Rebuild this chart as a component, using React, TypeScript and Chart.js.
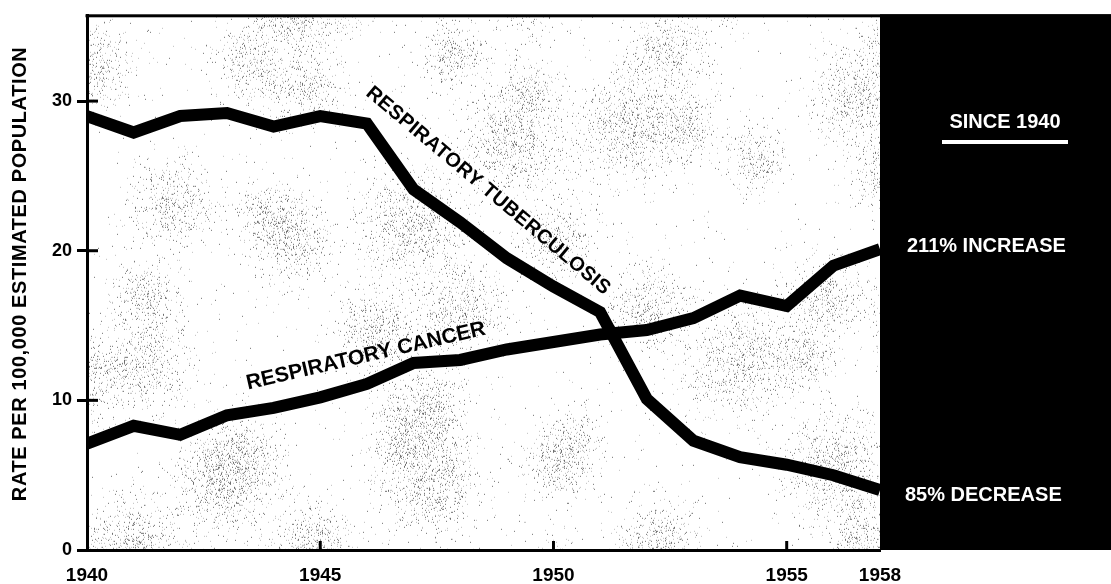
import React, { useEffect, useRef } from 'react';
import { Chart, registerables } from 'chart.js';

Chart.register(...registerables);

// ---- data ----
const years = [1940, 1941, 1942, 1943, 1944, 1945, 1946, 1947, 1948, 1949, 1950, 1951, 1952, 1953, 1954, 1955, 1956, 1957];
const tuberculosis = [29.0, 27.9, 29.0, 29.2, 28.3, 29.0, 28.5, 24.1, 21.9, 19.5, 17.6, 15.9, 10.1, 7.3, 6.2, 5.7, 5.0, 4.0];
const cancer = [7.1, 8.3, 7.7, 9.0, 9.5, 10.2, 11.1, 12.5, 12.7, 13.4, 13.9, 14.4, 14.7, 15.5, 17.0, 16.3, 19.0, 20.1];
const xTickYears = [1940, 1945, 1950, 1955, 1957];
const xTickLabels = ['1940', '1945', '1950', '1955', '1958'];
const yTicks = [0, 10, 20, 30];
const yTitle = 'RATE PER 100,000 ESTIMATED POPULATION';
const tbLabel = 'RESPIRATORY TUBERCULOSIS';
const cancerLabel = 'RESPIRATORY CANCER';
const panelHeading = 'SINCE 1940';
const cancerChange = '211% INCREASE';
const tbChange = '85% DECREASE';

const FONT = "'Liberation Sans', Arial, sans-serif";

function drawRotated(ctx: CanvasRenderingContext2D, text: string, cx: number, cy: number, deg: number, spacing: number) {
  ctx.save();
  ctx.translate(cx, cy);
  ctx.rotate((deg * Math.PI) / 180);
  (ctx as any).letterSpacing = spacing + 'px';
  ctx.fillText(text, 0, 0);
  ctx.restore();
}

// deterministic hash for the paper speckle texture (decoration only)
function hash(a: number, b: number): number {
  let h = (a * 374761393 + b * 668265263) | 0;
  h = Math.imul(h ^ (h >>> 13), 1274126177);
  h = h ^ (h >>> 16);
  return (h >>> 0) / 4294967296;
}

function makeTexture(w: number, h: number): HTMLCanvasElement {
  const c = document.createElement('canvas');
  c.width = w;
  c.height = h;
  const g = c.getContext('2d') as CanvasRenderingContext2D;
  const img = g.createImageData(w, h);
  const cell = 110;
  const blobs: { x: number; y: number; r: number }[] = [];
  for (let i = -1; i <= Math.ceil(w / cell) + 1; i++) {
    for (let j = -1; j <= Math.ceil(h / cell) + 1; j++) {
      blobs.push({
        x: i * cell + hash(i, j) * cell,
        y: j * cell + hash(j + 71, i + 13) * cell,
        r: 16 + hash(i + 5, j + 9) * 14,
      });
    }
  }
  for (let y = 0; y < h; y++) {
    for (let x = 0; x < w; x++) {
      let d = 0;
      for (const b of blobs) {
        const dx = x - b.x;
        const dy = y - b.y;
        if (Math.abs(dx) > 70 || Math.abs(dy) > 70) continue;
        d += Math.exp(-(dx * dx + dy * dy) / (2 * b.r * b.r));
      }
      const p = 0.003 + Math.min(0.2, d * 0.16);
      const idx = (y * w + x) * 4;
      if (hash(x, y) < p) {
        const v = hash(y + 3, x + 7) < 0.4 ? 110 : 190;
        img.data[idx] = v;
        img.data[idx + 1] = v;
        img.data[idx + 2] = v;
        img.data[idx + 3] = 255;
      }
    }
  }
  g.putImageData(img, 0, 0);
  return c;
}

const decor = {
  id: 'decor',
  beforeDraw(chart: any) {
    const { ctx, width, height, chartArea: a } = chart;
    ctx.save();
    ctx.fillStyle = '#fff';
    ctx.fillRect(0, 0, width, height);
    const w = Math.round(a.right - a.left);
    const h = Math.round(a.bottom - a.top);
    ctx.drawImage(makeTexture(w, h), a.left, a.top);
    ctx.restore();
  },
  afterDatasetsDraw(chart: any) {
    const { ctx, chartArea: a, scales } = chart;
    const x = scales.x;
    const y = scales.y;
    ctx.save();
    // black side panel and top frame line
    ctx.fillStyle = '#000';
    ctx.fillRect(a.right, a.top - 1.5, chart.width - a.right, a.bottom - a.top + 1.5);
    ctx.fillRect(a.left - 1.5, a.top - 1.5, chart.width - a.left + 1.5, 3);

    // inner tick stubs
    ctx.strokeStyle = '#000';
    ctx.lineWidth = 3;
    yTicks.forEach((v) => {
      if (v === 0) return;
      const py = y.getPixelForValue(v);
      ctx.beginPath();
      ctx.moveTo(a.left, py);
      ctx.lineTo(a.left + 11, py);
      ctx.stroke();
    });
    xTickYears.slice(1, -1).forEach((v) => {
      const px = x.getPixelForValue(v);
      ctx.beginPath();
      ctx.moveTo(px, a.bottom);
      ctx.lineTo(px, a.bottom - 9);
      ctx.stroke();
    });

    // series labels
    ctx.fillStyle = '#000';
    ctx.textAlign = 'center';
    ctx.textBaseline = 'middle';
    ctx.font = `bold 20px ${FONT}`;
    drawRotated(ctx, tbLabel, x.getPixelForValue(1948.6), y.getPixelForValue(24.0), 40, 0.3);
    ctx.font = `bold 21px ${FONT}`;
    drawRotated(ctx, cancerLabel, x.getPixelForValue(1945.98), y.getPixelForValue(12.95), -13, 0);

    // y axis title
    ctx.font = `bold 20px ${FONT}`;
    ctx.save();
    ctx.translate(20, (a.top + a.bottom) / 2 - 9);
    ctx.rotate(-Math.PI / 2);
    (ctx as any).letterSpacing = '0.6px';
    ctx.fillText(yTitle, 0, 0);
    ctx.restore();

    // panel texts
    ctx.fillStyle = '#fff';
    ctx.textAlign = 'center';
    ctx.fillText(panelHeading, 1005, 122);
    ctx.fillRect(942, 140, 126, 4);
    ctx.textAlign = 'left';
    ctx.fillText(cancerChange, 907, 246);
    ctx.fillText(tbChange, 905, 495);
    ctx.restore();
  },
};

export default function App() {
  const ref = useRef<HTMLCanvasElement>(null);
  useEffect(() => {
    const lineStyle = {
      borderColor: '#000',
      backgroundColor: '#000',
      borderWidth: 12,
      pointRadius: 0,
      tension: 0,
      clip: 0,
      borderJoinStyle: 'miter',
      borderCapStyle: 'butt',
      fill: false,
    };
    const chart = new Chart(ref.current as HTMLCanvasElement, {
      type: 'line',
      data: {
        datasets: [
          { label: 'Respiratory tuberculosis', data: years.map((yr, i) => ({ x: yr, y: tuberculosis[i] })), ...lineStyle } as any,
          { label: 'Respiratory cancer', data: years.map((yr, i) => ({ x: yr, y: cancer[i] })), ...lineStyle } as any,
        ],
      },
      options: {
        animation: false,
        responsive: false,
        devicePixelRatio: 1,
        layout: { padding: { top: 14, right: 231, left: 0, bottom: 0 } },
        plugins: { legend: { display: false }, tooltip: { enabled: false }, title: { display: false } },
        scales: {
          x: {
            type: 'linear',
            min: 1940,
            max: 1957,
            afterFit: (s: any) => { s.height = 34; },
            afterBuildTicks: (s: any) => { s.ticks = xTickYears.map((v) => ({ value: v })); },
            ticks: {
              autoSkip: false,
              maxRotation: 0,
              padding: 6,
              color: '#000',
              font: { family: FONT, size: 19, weight: 'bold' },
              callback: (_v: any, i: number) => xTickLabels[i],
            },
            grid: { display: false },
            border: { display: true, color: '#000', width: 3 },
          },
          y: {
            min: 0,
            max: 35.7,
            afterFit: (s: any) => { s.width = 87; },
            afterBuildTicks: (s: any) => { s.ticks = yTicks.map((v) => ({ value: v })); },
            ticks: { padding: 5, color: '#000', font: { family: FONT, size: 18, weight: 'bold' } },
            grid: { drawOnChartArea: false, drawTicks: true, tickLength: 10, tickWidth: 3, tickColor: '#000', color: '#000', lineWidth: 3 },
            border: { display: true, color: '#000', width: 3 },
          },
        },
      } as any,
      plugins: [decor],
    });
    return () => chart.destroy();
  }, []);
  return (
    <div style={{ position: 'absolute', left: 0, top: 0, width: 1111, height: 584, background: '#fff' }}>
      <canvas ref={ref} width={1111} height={584} style={{ display: 'block', width: 1111, height: 584 }} />
    </div>
  );
}
